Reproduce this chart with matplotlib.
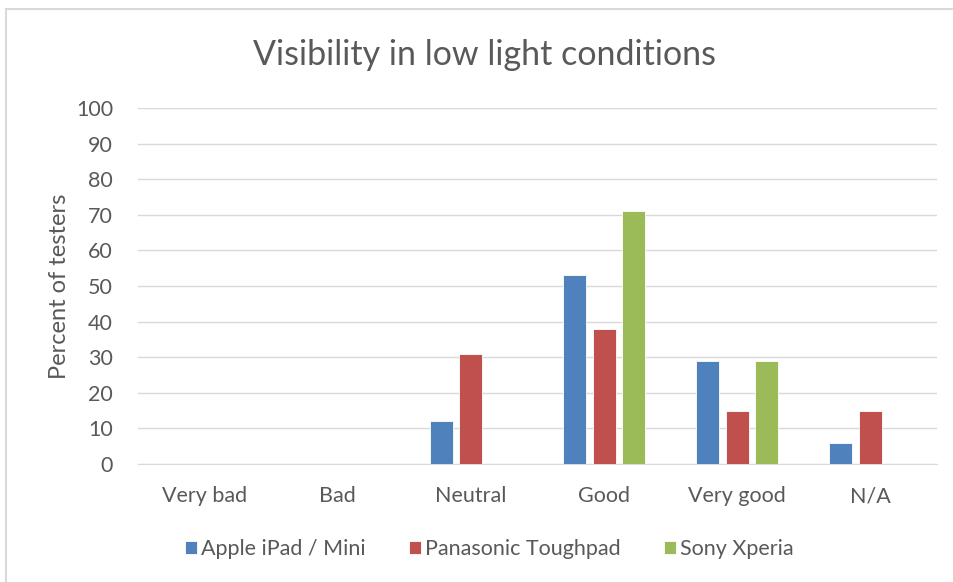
import numpy as np
import matplotlib
matplotlib.use('Agg')
import matplotlib.pyplot as plt
from matplotlib.patches import Rectangle

categories = ['Very bad', 'Bad', 'Neutral', 'Good', 'Very good', 'N/A']
series = ['Apple iPad / Mini', 'Panasonic Toughpad', 'Sony Xperia']
apple = [0, 0, 12, 53, 29, 6]
panasonic = [0, 0, 31, 38, 15, 15]
sony = [0, 0, 0, 71, 29, 0]
colors = ['#4f81bd', '#c0504d', '#9bbb59']

plt.rcParams['font.family'] = ['Lato', 'DejaVu Sans']
text_color = '#595959'

fig = plt.figure(figsize=(9.54, 5.82), dpi=100)
ax = fig.add_axes([0.1447, 0.2027, 0.8375, 0.6117])

# outer chart frame
fig.patches.append(Rectangle((6 / 954, -0.05), 1.1, 1 - 9 / 582 + 0.05,
                             transform=fig.transFigure, fill=False,
                             edgecolor='#d9d9d9', linewidth=1.5))

x = np.arange(len(categories))
width = 0.173
offsets = [-0.222, 0, 0.222]
for vals, name, col, off in zip([apple, panasonic, sony], series, colors, offsets):
    ax.bar(x + off, vals, width, color=col, label=name,
           edgecolor='white', linewidth=0.6, zorder=3)

ax.set_xlim(-0.5, len(categories) - 0.5)
ax.set_ylim(0, 100)
ax.set_yticks(range(0, 101, 10))
ax.set_xticks(x)
ax.set_xticklabels(categories)
ax.grid(axis='y', color='#d9d9d9', linewidth=1, zorder=0)
ax.tick_params(length=0, labelsize=15.5, colors=text_color)
ax.tick_params(axis='x', pad=16)
ax.tick_params(axis='y', pad=18)
for s in ['top', 'right', 'left']:
    ax.spines[s].set_visible(False)
ax.spines['bottom'].set_color('#d9d9d9')

ax.set_ylabel('Percent of testers', fontsize=17, color=text_color, labelpad=4)
fig.text(0.508, 0.905, 'Visibility in low light conditions', fontsize=24.5,
         color=text_color, ha='center', va='center')

fig.legend(loc='center', bbox_to_anchor=(0.513, 0.057), ncol=3, frameon=False,
           fontsize=15.5, handlelength=0.55, handleheight=0.55, handletextpad=0.2,
           columnspacing=2.0, labelcolor=text_color)

fig.savefig('out.png', dpi=100)
